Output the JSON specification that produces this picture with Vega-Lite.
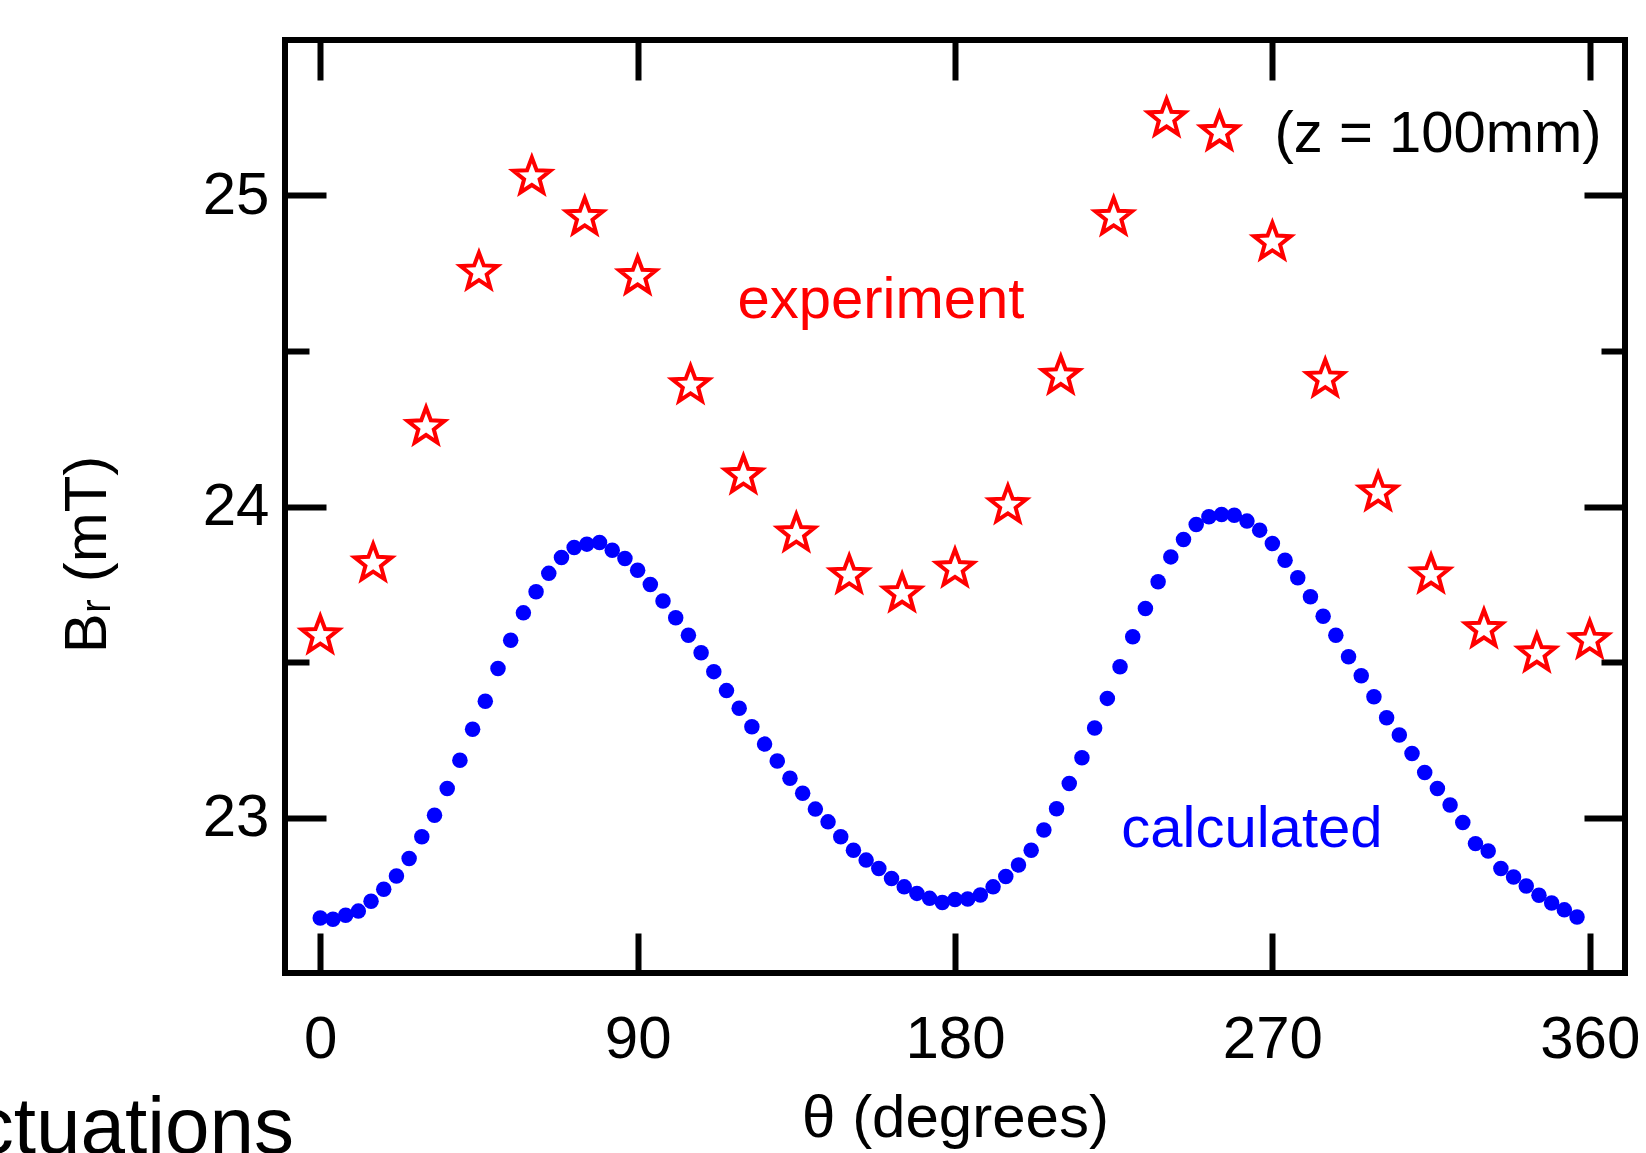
{
  "$schema": "https://vega.github.io/schema/vega-lite/v6.json",
  "width": 1340,
  "height": 933,
  "autosize": {"type": "none"},
  "padding": {"left": 285, "top": 40, "right": 21, "bottom": 180},
  "background": "white",
  "config": {
    "view": {"stroke": "black", "strokeWidth": 6},
    "font": "Liberation Sans",
    "axis": {
      "domain": false,
      "grid": false,
      "tickColor": "black",
      "tickWidth": 6,
      "tickCap": "butt",
      "labelColor": "black",
      "labelFont": "Liberation Sans",
      "labelFontSize": 60,
      "labelFlush": false,
      "labelOverlap": false,
      "labelBound": false,
      "titleFont": "Liberation Sans",
      "titleFontSize": 60,
      "titleFontWeight": "normal",
      "titleColor": "black"
    }
  },
  "datasets": {
    "calc": [
      {"theta": 0, "Br": 22.677}, {"theta": 3.6, "Br": 22.673}, {"theta": 7.2, "Br": 22.686}, {"theta": 10.8, "Br": 22.699},
      {"theta": 14.4, "Br": 22.731}, {"theta": 18, "Br": 22.769}, {"theta": 21.6, "Br": 22.812}, {"theta": 25.2, "Br": 22.868},
      {"theta": 28.8, "Br": 22.938}, {"theta": 32.4, "Br": 23.007}, {"theta": 36, "Br": 23.093}, {"theta": 39.6, "Br": 23.184},
      {"theta": 43.2, "Br": 23.284}, {"theta": 46.8, "Br": 23.374}, {"theta": 50.4, "Br": 23.479}, {"theta": 54, "Br": 23.570},
      {"theta": 57.6, "Br": 23.658}, {"theta": 61.2, "Br": 23.726}, {"theta": 64.8, "Br": 23.785}, {"theta": 68.4, "Br": 23.836},
      {"theta": 72, "Br": 23.868}, {"theta": 75.6, "Br": 23.879}, {"theta": 79.2, "Br": 23.884}, {"theta": 82.8, "Br": 23.859},
      {"theta": 86.4, "Br": 23.833}, {"theta": 90, "Br": 23.795}, {"theta": 93.6, "Br": 23.749}, {"theta": 97.2, "Br": 23.696},
      {"theta": 100.8, "Br": 23.642}, {"theta": 104.4, "Br": 23.586}, {"theta": 108, "Br": 23.530}, {"theta": 111.6, "Br": 23.469},
      {"theta": 115.2, "Br": 23.408}, {"theta": 118.8, "Br": 23.351}, {"theta": 122.4, "Br": 23.292}, {"theta": 126, "Br": 23.236},
      {"theta": 129.6, "Br": 23.182}, {"theta": 133.2, "Br": 23.126}, {"theta": 136.8, "Br": 23.078}, {"theta": 140.4, "Br": 23.027},
      {"theta": 144, "Br": 22.986}, {"theta": 147.6, "Br": 22.938}, {"theta": 151.2, "Br": 22.895}, {"theta": 154.8, "Br": 22.863},
      {"theta": 158.4, "Br": 22.836}, {"theta": 162, "Br": 22.804}, {"theta": 165.6, "Br": 22.777}, {"theta": 169.2, "Br": 22.756},
      {"theta": 172.8, "Br": 22.740}, {"theta": 176.4, "Br": 22.727}, {"theta": 180, "Br": 22.736}, {"theta": 183.6, "Br": 22.738},
      {"theta": 187.2, "Br": 22.751}, {"theta": 190.8, "Br": 22.777}, {"theta": 194.4, "Br": 22.810}, {"theta": 198, "Br": 22.847},
      {"theta": 201.6, "Br": 22.895}, {"theta": 205.2, "Br": 22.960}, {"theta": 208.8, "Br": 23.028}, {"theta": 212.4, "Br": 23.109},
      {"theta": 216, "Br": 23.192}, {"theta": 219.6, "Br": 23.288}, {"theta": 223.2, "Br": 23.383}, {"theta": 226.8, "Br": 23.485},
      {"theta": 230.4, "Br": 23.581}, {"theta": 234, "Br": 23.672}, {"theta": 237.6, "Br": 23.758}, {"theta": 241.2, "Br": 23.838},
      {"theta": 244.8, "Br": 23.894}, {"theta": 248.4, "Br": 23.942}, {"theta": 252, "Br": 23.967}, {"theta": 255.6, "Br": 23.974},
      {"theta": 259.2, "Br": 23.972}, {"theta": 262.8, "Br": 23.953}, {"theta": 266.4, "Br": 23.924}, {"theta": 270, "Br": 23.881},
      {"theta": 273.6, "Br": 23.827}, {"theta": 277.2, "Br": 23.771}, {"theta": 280.8, "Br": 23.710}, {"theta": 284.4, "Br": 23.647},
      {"theta": 288, "Br": 23.586}, {"theta": 291.6, "Br": 23.517}, {"theta": 295.2, "Br": 23.456}, {"theta": 298.8, "Br": 23.388},
      {"theta": 302.4, "Br": 23.321}, {"theta": 306, "Br": 23.265}, {"theta": 309.6, "Br": 23.206}, {"theta": 313.2, "Br": 23.145},
      {"theta": 316.8, "Br": 23.093}, {"theta": 320.4, "Br": 23.040}, {"theta": 324, "Br": 22.984}, {"theta": 327.6, "Br": 22.916},
      {"theta": 331.2, "Br": 22.892}, {"theta": 334.8, "Br": 22.836}, {"theta": 338.4, "Br": 22.809}, {"theta": 342, "Br": 22.780},
      {"theta": 345.6, "Br": 22.750}, {"theta": 349.2, "Br": 22.725}, {"theta": 352.8, "Br": 22.703}, {"theta": 356.4, "Br": 22.680}
    ],
    "exp": [
      {"theta": 0, "Br": 23.585}, {"theta": 15, "Br": 23.817}, {"theta": 30, "Br": 24.256}, {"theta": 45, "Br": 24.754},
      {"theta": 60, "Br": 25.06}, {"theta": 75, "Br": 24.93}, {"theta": 90, "Br": 24.74}, {"theta": 105, "Br": 24.39},
      {"theta": 120, "Br": 24.10}, {"theta": 135, "Br": 23.913}, {"theta": 150, "Br": 23.779}, {"theta": 165, "Br": 23.72},
      {"theta": 180, "Br": 23.80}, {"theta": 195, "Br": 24.004}, {"theta": 210, "Br": 24.42}, {"theta": 225, "Br": 24.93},
      {"theta": 240, "Br": 25.248}, {"theta": 255, "Br": 25.203}, {"theta": 270, "Br": 24.85}, {"theta": 285, "Br": 24.41},
      {"theta": 300, "Br": 24.045}, {"theta": 315, "Br": 23.781}, {"theta": 330, "Br": 23.605}, {"theta": 345, "Br": 23.527},
      {"theta": 360, "Br": 23.57}
    ],
    "notes": [
      {"label": "experiment", "kind": "experiment", "theta": 159.0, "Br": 24.606},
      {"label": "calculated", "kind": "calculated", "theta": 264.2, "Br": 22.906},
      {"label": "(z = 100mm)", "kind": "note", "theta": 317.0, "Br": 25.141}
    ],
    "slide": [
      {"label": "ctuations", "theta": -7.45, "Br": 21.92}
    ]
  },
  "layer": [
    {
      "data": {"name": "calc"},
      "mark": {"type": "point", "shape": "circle", "filled": true, "color": "#0000FF", "opacity": 1, "size": 240, "strokeWidth": 0},
      "encoding": {
        "x": {
          "field": "theta", "type": "quantitative",
          "scale": {"domain": [-10, 370], "nice": false, "zero": false},
          "axis": {"orient": "bottom", "values": [0, 90, 180, 270, 360], "tickSize": -40, "labelPadding": 77,
                   "title": "θ (degrees)", "titleBaseline": "alphabetic", "titleY": 163}
        },
        "y": {
          "field": "Br", "type": "quantitative",
          "scale": {"domain": [22.5, 25.5], "nice": false, "zero": false},
          "axis": {"orient": "left", "values": [23, 24, 25], "tickSize": -41, "labelPadding": 57,
                   "title": "Bᵣ (mT)", "titleX": -180, "titleY": 514, "titleBaseline": "alphabetic", "titleAngle": -90}
        }
      }
    },
    {
      "data": {"name": "exp"},
      "mark": {"type": "point", "shape": "M0,-1L0.247,-0.34L0.951,-0.309L0.4,0.13L0.588,0.809L0,0.42L-0.588,0.809L-0.4,0.13L-0.951,-0.309L-0.247,-0.34Z",
               "filled": false, "stroke": "#FF0000", "strokeWidth": 4, "opacity": 1, "size": 1500},
      "encoding": {
        "x": {
          "field": "theta", "type": "quantitative",
          "scale": {"domain": [-10, 370], "nice": false, "zero": false},
          "axis": {"orient": "top", "values": [0, 90, 180, 270, 360], "tickSize": -40, "labels": false, "title": null}
        },
        "y": {
          "field": "Br", "type": "quantitative",
          "scale": {"domain": [22.5, 25.5], "nice": false, "zero": false},
          "axis": {"orient": "right", "values": [23, 24, 25], "tickSize": -41, "labels": false, "title": null}
        }
      }
    },
    {
      "data": {"name": "notes"},
      "mark": {"type": "text", "align": "center", "baseline": "alphabetic", "font": "Liberation Sans", "fontSize": 58},
      "encoding": {
        "x": {"field": "theta", "type": "quantitative", "scale": {"domain": [-10, 370], "nice": false, "zero": false}, "axis": null},
        "y": {
          "field": "Br", "type": "quantitative",
          "scale": {"domain": [22.5, 25.5], "nice": false, "zero": false},
          "axis": {"orient": "left", "values": [23.5, 24.5], "tickSize": -24, "labels": false, "title": null}
        },
        "text": {"field": "label", "type": "nominal"},
        "color": {"field": "kind", "type": "nominal",
                  "scale": {"domain": ["experiment", "calculated", "note"], "range": ["#FF0000", "#0000FF", "#000000"]},
                  "legend": null}
      }
    },
    {
      "data": {"name": "slide"},
      "mark": {"type": "text", "align": "right", "baseline": "alphabetic", "font": "Liberation Sans", "fontSize": 80, "color": "black"},
      "encoding": {
        "x": {"field": "theta", "type": "quantitative", "scale": {"domain": [-10, 370], "nice": false, "zero": false}, "axis": null},
        "y": {
          "field": "Br", "type": "quantitative",
          "scale": {"domain": [22.5, 25.5], "nice": false, "zero": false},
          "axis": {"orient": "right", "values": [23.5, 24.5], "tickSize": -24, "labels": false, "title": null}
        },
        "text": {"field": "label", "type": "nominal"}
      }
    }
  ],
  "resolve": {"axis": {"x": "independent", "y": "independent"}}
}
